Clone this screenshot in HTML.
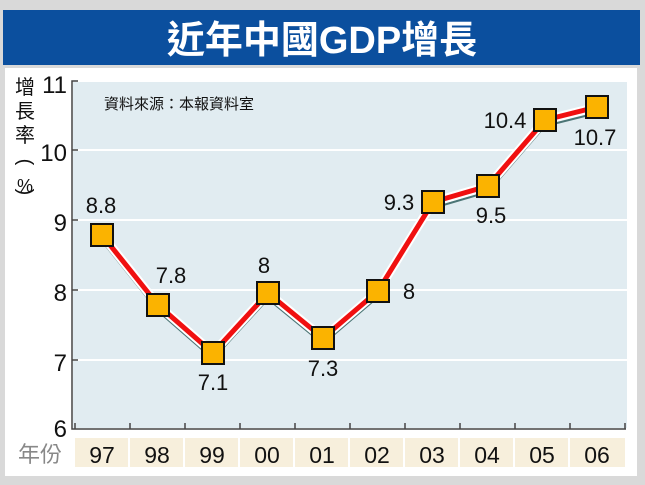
<!DOCTYPE html>
<html><head><meta charset="utf-8"><style>
body{margin:0;width:645px;height:485px;background:#d9d9d9;overflow:hidden}
svg{display:block}
text{font-family:"Liberation Sans","Noto Sans CJK TC",sans-serif}
</style></head><body>
<svg width="645" height="485" viewBox="0 0 645 485">
<rect x="0" y="0" width="645" height="485" fill="#d9d9d9"/>
<rect x="3" y="10" width="637" height="55" fill="#0b4f9e"/>
<text x="322" y="53" text-anchor="middle" fill="#fff" font-size="38" font-weight="bold">近年中國GDP增長</text>
<rect x="5" y="68" width="632" height="408" fill="#fff"/>
<rect x="73" y="82" width="554" height="346" fill="#e1ecf1"/>
<g stroke="#fff" stroke-width="2">
<line x1="73" y1="150" x2="627" y2="150"/><line x1="73" y1="220" x2="627" y2="220"/>
<line x1="73" y1="290" x2="627" y2="290"/><line x1="73" y1="360" x2="627" y2="360"/>
</g>
<g stroke="#444" stroke-width="1.5" fill="none">
<polyline points="78,81 72,81 72,429 626,429"/>
<line x1="72" y1="150" x2="78" y2="150"/><line x1="72" y1="220" x2="78" y2="220"/>
<line x1="72" y1="290" x2="78" y2="290"/><line x1="72" y1="360" x2="78" y2="360"/>
<line x1="75" y1="423" x2="75" y2="429"/><line x1="130" y1="423" x2="130" y2="429"/>
<line x1="185" y1="423" x2="185" y2="429"/><line x1="240" y1="423" x2="240" y2="429"/>
<line x1="295" y1="423" x2="295" y2="429"/><line x1="350" y1="423" x2="350" y2="429"/>
<line x1="405" y1="423" x2="405" y2="429"/><line x1="460" y1="423" x2="460" y2="429"/>
<line x1="515" y1="423" x2="515" y2="429"/><line x1="570" y1="423" x2="570" y2="429"/>
<line x1="625" y1="423" x2="625" y2="429"/>
</g>
<g font-size="24" fill="#111" text-anchor="end">
<text x="67" y="93">11</text><text x="67" y="161">10</text><text x="67" y="231">9</text>
<text x="67" y="301">8</text><text x="67" y="371">7</text><text x="67" y="437">6</text>
</g>
<g font-size="20" fill="#111" text-anchor="middle">
<text x="25" y="94">增</text><text x="25" y="118">長</text><text x="25" y="142">率</text>
<text x="25" y="168" transform="rotate(90 25 162)">(</text>
<text x="25" y="192" font-size="18">%</text>
<text x="25" y="198" transform="rotate(90 25 192)">)</text>
</g>
<text x="104" y="109" font-size="15" fill="#111">資料來源：本報資料室</text>
<g fill="#f7efdc">
<rect x="75" y="438" width="53" height="29"/><rect x="130" y="438" width="53" height="29"/>
<rect x="185" y="438" width="53" height="29"/><rect x="240" y="438" width="53" height="29"/>
<rect x="295" y="438" width="53" height="29"/><rect x="350" y="438" width="53" height="29"/>
<rect x="405" y="438" width="53" height="29"/><rect x="460" y="438" width="53" height="29"/>
<rect x="515" y="438" width="53" height="29"/><rect x="570" y="438" width="55" height="29"/>
</g>
<text x="40" y="462" font-size="22" fill="#888" text-anchor="middle">年份</text>
<g font-size="23" fill="#111" text-anchor="middle">
<text x="102" y="463">97</text><text x="157" y="463">98</text><text x="212" y="463">99</text>
<text x="267" y="463">00</text><text x="322" y="463">01</text><text x="377" y="463">02</text>
<text x="432" y="463">03</text><text x="487" y="463">04</text><text x="542" y="463">05</text>
<text x="597" y="463">06</text>
</g>
<polyline fill="none" stroke="#4b7575" stroke-width="2" points="102,241 158,311 213,359 268,299 323,344 378,297 433,208 488,192 545,126 597,113"/>
<polyline fill="none" stroke="#fff" stroke-width="9" stroke-linejoin="round" points="102,235 158,305 213,353 268,293 323,338 378,291 433,202 488,186 545,120 597,107"/>
<polyline fill="none" stroke="#f01010" stroke-width="5" stroke-linejoin="round" points="102,235 158,305 213,353 268,293 323,338 378,291 433,202 488,186 545,120 597,107"/>
<g fill="#fbb300" stroke="#111" stroke-width="2">
<rect x="91" y="224" width="22" height="22"/><rect x="147" y="294" width="22" height="22"/>
<rect x="202" y="342" width="22" height="22"/><rect x="257" y="282" width="22" height="22"/>
<rect x="312" y="327" width="22" height="22"/><rect x="367" y="280" width="22" height="22"/>
<rect x="422" y="191" width="22" height="22"/><rect x="477" y="175" width="22" height="22"/>
<rect x="534" y="109" width="22" height="22"/><rect x="586" y="96" width="22" height="22"/>
</g>
<g font-size="22" fill="#111" text-anchor="middle">
<text x="101" y="213">8.8</text><text x="171" y="283">7.8</text><text x="213" y="390">7.1</text>
<text x="264" y="273">8</text><text x="323" y="376">7.3</text><text x="409" y="299">8</text>
<text x="399" y="210">9.3</text><text x="491" y="223">9.5</text><text x="505" y="128">10.4</text>
<text x="595" y="145">10.7</text>
</g>
</svg>
</body></html>
